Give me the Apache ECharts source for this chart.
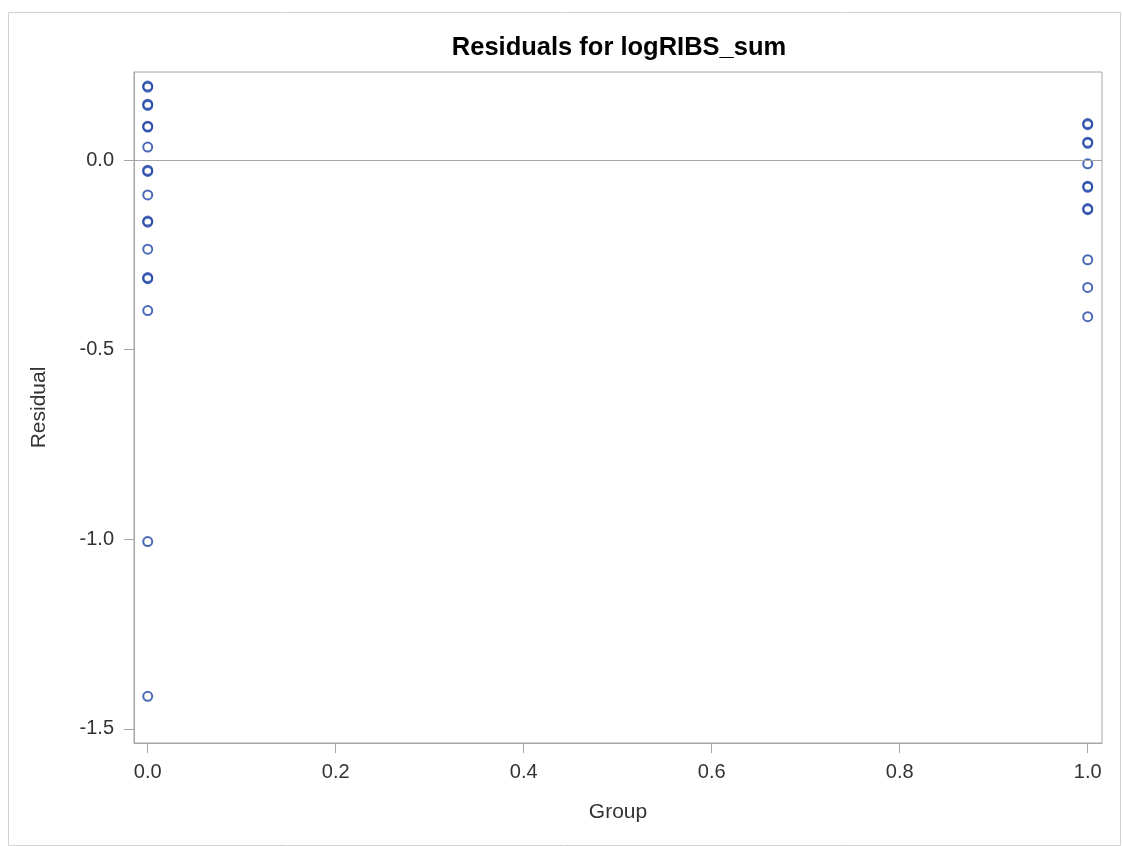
<!DOCTYPE html>
<html>
<head>
<meta charset="utf-8">
<title>Residuals for logRIBS_sum</title>
<script src="https://cdn.jsdelivr.net/npm/echarts@6/dist/echarts.min.js"></script>
<style>
  html, body { margin: 0; padding: 0; background: #ffffff; }
  #chart { width: 1123px; height: 846px; }
</style>
</head>
<body>
<div id="chart"></div>
<script>
// Residuals of logRIBS_sum by group (0 / 1); repeated values are separate observations
const groups = [0, 1];
const group0Residuals = [0.195, 0.192, 0.147, 0.144, 0.089, 0.087, 0.034,
  -0.027, -0.030, -0.092, -0.161, -0.164, -0.235, -0.310, -0.313, -0.397,
  -1.006, -1.414];
const group1Residuals = [0.096, 0.093, 0.047, 0.044, -0.010, -0.069, -0.072,
  -0.128, -0.131, -0.263, -0.336, -0.413];
const xTicks = [0, 0.2, 0.4, 0.6, 0.8, 1.0];
const yTicks = [-1.5, -1.0, -0.5, 0.0];

const points = []
  .concat(group0Residuals.map(v => [groups[0], v]))
  .concat(group1Residuals.map(v => [groups[1], v]));

const axisGray = '#a3a6ab';
const labelColor = '#333333';
const fontFamily = '"Liberation Sans", Arial, sans-serif';

const chart = echarts.init(document.getElementById('chart'), null, { renderer: 'canvas' });

chart.setOption({
  backgroundColor: '#ffffff',
  animation: false,
  graphic: [
    {
      type: 'rect',
      shape: { x: 8.5, y: 12.5, width: 1112, height: 833 },
      style: { fill: 'none', stroke: '#d2d2d2', lineWidth: 1 },
      silent: true
    },
    {
      type: 'text',
      style: {
        text: 'Residuals for logRIBS_sum',
        x: 619, y: 48,
        textAlign: 'center', textVerticalAlign: 'middle',
        font: 'bold 25.5px ' + fontFamily,
        fill: '#000000'
      },
      silent: true
    }
  ],
  grid: {
    left: 134, right: 21, top: 72, bottom: 103,
    show: true, borderColor: axisGray, borderWidth: 1,
    outerBoundsMode: 'none'
  },
  xAxis: {
    type: 'value',
    min: -0.0146, max: 1.0152,
    name: 'Group',
    nameLocation: 'middle',
    nameGap: 59,
    nameTextStyle: { fontFamily, fontSize: 21, color: labelColor },
    axisLine: { show: true, onZero: false, lineStyle: { color: axisGray, width: 1 } },
    axisTick: { show: true, length: 10, customValues: xTicks, lineStyle: { color: axisGray } },
    axisLabel: {
      customValues: xTicks, margin: 19,
      fontFamily, fontSize: 20, color: labelColor,
      formatter: v => v.toFixed(1)
    },
    splitLine: { show: false }
  },
  yAxis: {
    type: 'value',
    min: -1.537, max: 0.232,
    name: 'Residual',
    nameLocation: 'middle',
    nameGap: 84,
    nameTextStyle: { fontFamily, fontSize: 21, color: labelColor },
    axisLine: { show: true, onZero: false, lineStyle: { color: axisGray, width: 1 } },
    axisTick: { show: true, length: 10, customValues: yTicks, lineStyle: { color: axisGray } },
    axisLabel: {
      customValues: yTicks, margin: 20,
      fontFamily, fontSize: 20, color: labelColor,
      formatter: v => v.toFixed(1)
    },
    splitLine: { show: false }
  },
  series: [
    {
      type: 'scatter',
      data: points,
      symbol: 'circle',
      symbolSize: 9,
      itemStyle: { color: 'rgba(255,255,255,0)', borderColor: '#1f45a6', borderWidth: 2 },
      markLine: {
        silent: true,
        symbol: ['none', 'none'],
        label: { show: false },
        lineStyle: { color: axisGray, width: 1, type: 'solid' },
        data: [{ yAxis: 0 }]
      }
    }
  ]
});
</script>
</body>
</html>
